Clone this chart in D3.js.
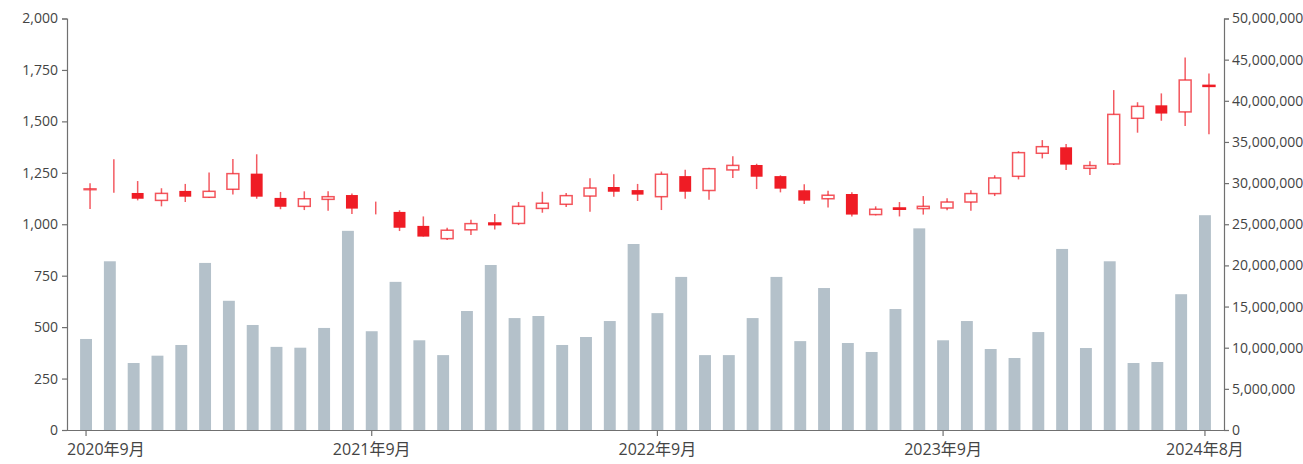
<!DOCTYPE html>
<html>
<head>
<meta charset="utf-8">
<script src="https://cdn.jsdelivr.net/npm/d3@7"></script>
<style>
  html, body { margin: 0; padding: 0; background: #fff; }
  svg { display: block; }
  text { font-family: "Open Sans", "Noto Sans CJK JP", sans-serif; }
</style>
</head>
<body>
<svg id="chart" width="1303" height="464"></svg>
<script>
// ---- data ----
const months = [
  "2020年9月","2020年10月","2020年11月","2020年12月","2021年1月","2021年2月","2021年3月","2021年4月",
  "2021年5月","2021年6月","2021年7月","2021年8月","2021年9月","2021年10月","2021年11月","2021年12月",
  "2022年1月","2022年2月","2022年3月","2022年4月","2022年5月","2022年6月","2022年7月","2022年8月",
  "2022年9月","2022年10月","2022年11月","2022年12月","2023年1月","2023年2月","2023年3月","2023年4月",
  "2023年5月","2023年6月","2023年7月","2023年8月","2023年9月","2023年10月","2023年11月","2023年12月",
  "2024年1月","2024年2月","2024年3月","2024年4月","2024年5月","2024年6月","2024年7月","2024年8月"
];
const openPrices = [1168,null,1152,1116,1162,1131,1170,1246,1128,1087,1121,1142,null,1060,992,930,
  973,1006,1004,1077,1097,1137,1181,1166,1134,1234,1164,1264,1288,1234,1165,1124,
  1147,1047,1079,1076,1079,1108,1149,1233,1345,1374,1272,1293,1515,1578,1546,1675];
const closePrices = [1172,null,1124,1150,1134,1160,1246,1134,1085,1124,1134,1076,null,983,940,971,
  1003,998,1087,1102,1139,1176,1158,1144,1243,1158,1270,1286,1231,1173,1115,1141,
  1047,1073,1073,1087,1108,1149,1225,1348,1377,1290,1285,1534,1573,1538,1701,1670];
const highPrices = [1199,1316,1210,1175,1196,1251,1317,1340,1157,1160,1160,1150,1110,1068,1038,983,
  1022,1050,1108,1158,1152,1223,1243,1196,1256,1265,1275,1330,1294,1238,1194,1163,
  1155,1087,1108,1137,1126,1165,1238,1355,1409,1390,1306,1652,1593,1636,1811,1733];
const lowPrices = [1074,1153,1116,1087,1108,1128,1144,1124,1073,1069,1066,1050,1048,967,940,923,
  948,975,996,1056,1084,1061,1134,1113,1069,1124,1119,1225,1171,1155,1098,1081,
  1038,1043,1038,1047,1068,1066,1137,1218,1320,1264,1239,1288,1445,1503,1478,1437];
const volumes = [11060000,20500000,8140000,9030000,10330000,20300000,15700000,12760000,10100000,10000000,12400000,24200000,
  12000000,18000000,10900000,9100000,14460000,20050000,13600000,13850000,10330000,11300000,13240000,22600000,
  14200000,18600000,9100000,9100000,13600000,18600000,10800000,17250000,10570000,9480000,14700000,24500000,
  10900000,13240000,9840000,8750000,11900000,22000000,9960000,20500000,8140000,8260000,16500000,26100000];
const xTickLabels = ["2020年9月","2021年9月","2022年9月","2023年9月","2024年8月"];
const priceTicks = [0,250,500,750,1000,1250,1500,1750,2000];
const volumeTicks = [0,5000000,10000000,15000000,20000000,25000000,30000000,35000000,40000000,45000000,50000000];

// ---- layout ----
const svg = d3.select("#chart");
const mLeft = 67, mRight = 1224, mTop = 18.5, mBottom = 430;

const x = d3.scaleBand().domain(months).range([mLeft, mRight]).paddingInner(0.5).paddingOuter(0.55);
const yP = d3.scaleLinear().domain([0, 2000]).range([mBottom, mTop]);
const yV = d3.scaleLinear().domain([0, 50000000]).range([mBottom, mTop]);
const bw = x.bandwidth();
const candleShift = 4;

const rows = months.map((m, i) => ({
  m, o: openPrices[i], c: closePrices[i], h: highPrices[i], l: lowPrices[i], v: volumes[i]
}));

// volume bars
svg.append("g").selectAll("rect").data(rows).join("rect")
  .attr("x", d => x(d.m))
  .attr("y", d => yV(d.v))
  .attr("width", bw)
  .attr("height", d => yV(0) - yV(d.v))
  .attr("fill", "#b4c1ca");

// candles
const red = "#ef1c25";
const cg = svg.append("g");
const cx = d => x(d.m) + bw / 2 + candleShift;
cg.selectAll("line.wick").data(rows).join("line")
  .attr("class", "wick")
  .attr("x1", cx).attr("x2", cx)
  .attr("y1", d => yP(d.h)).attr("y2", d => yP(d.l))
  .attr("stroke", red).attr("stroke-opacity", 0.72).attr("stroke-width", 1.5);

const bodies = rows.filter(d => d.o !== null && d.c !== null);
cg.selectAll("rect.body").data(bodies).join("rect")
  .attr("class", "body")
  .attr("x", d => cx(d) - bw / 2)
  .attr("y", d => yP(Math.max(d.o, d.c)))
  .attr("width", bw)
  .attr("height", d => Math.max(0.5, Math.abs(yP(d.o) - yP(d.c))))
  .attr("fill", d => d.c >= d.o ? "#fff" : red)
  .attr("stroke", d => d.c >= d.o ? red : (Math.abs(yP(d.o) - yP(d.c)) < 2 ? red : "none"))
  .attr("stroke-opacity", d => d.c >= d.o ? 0.75 : 1)
  .attr("stroke-width", 1.5);

// axes
const axisColor = "#707070";
const textColor = "#444";
function styleAxis(g, size) {
  g.selectAll(".domain").attr("stroke", axisColor).attr("stroke-width", 1.2);
  g.selectAll(".tick line").attr("stroke", axisColor).attr("stroke-width", 1.2);
  g.selectAll(".tick text").attr("fill", textColor).attr("font-size", size);
}

const fmt = d3.format(",");
const gl = svg.append("g").attr("transform", `translate(${mLeft},0)`)
  .call(d3.axisLeft(yP).tickValues(priceTicks).tickFormat(fmt).tickSize(5).tickSizeOuter(5).tickPadding(4));
styleAxis(gl, 14);

const gr = svg.append("g").attr("transform", `translate(${mRight},0)`)
  .call(d3.axisRight(yV).tickValues(volumeTicks).tickFormat(fmt).tickSize(5).tickSizeOuter(5).tickPadding(3));
styleAxis(gr, 14);

const gx = svg.append("g").attr("transform", `translate(0,${mBottom})`)
  .call(d3.axisBottom(x).tickValues(xTickLabels).tickSize(6).tickSizeOuter(0).tickPadding(8));
styleAxis(gx, 16);
gx.select(".domain").attr("d", `M${mLeft},0.5H${mRight}`);
// keep the first label inside the plot area (left-aligned at the axis)
gx.selectAll(".tick").filter(d => d === xTickLabels[0]).select("text")
  .attr("text-anchor", "start")
  .attr("x", d => mLeft - (x(d) + bw / 2));
</script>
</body>
</html>
